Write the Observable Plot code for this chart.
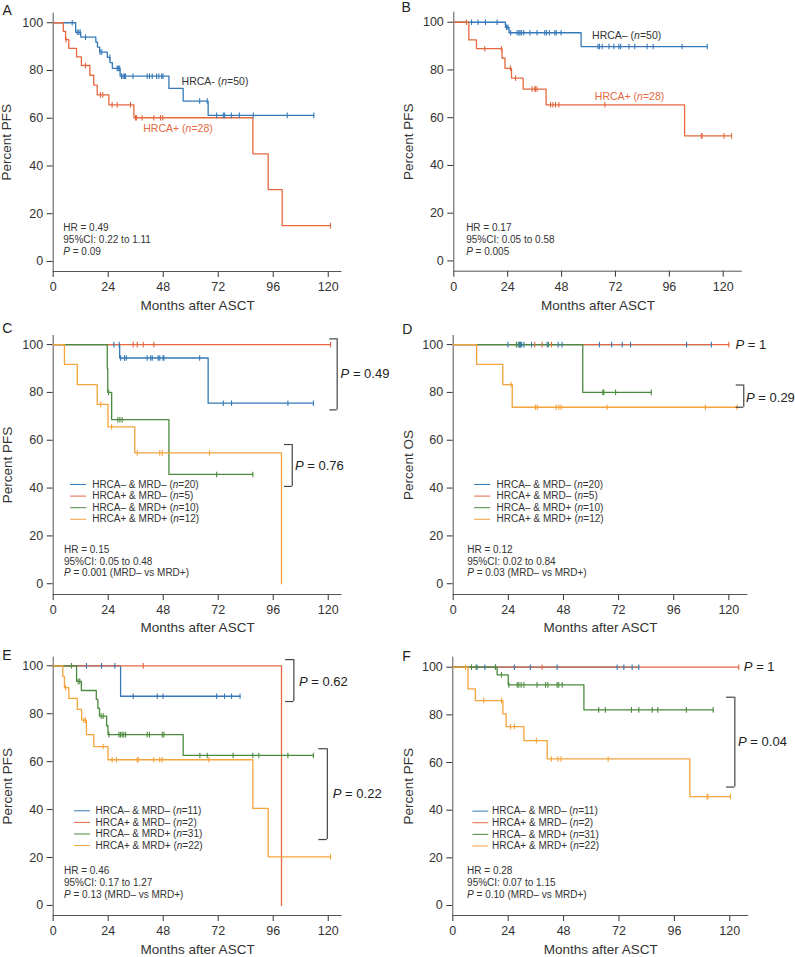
<!DOCTYPE html>
<html><head><meta charset="utf-8">
<script src="https://cdn.jsdelivr.net/npm/d3@7"></script>
<script src="https://cdn.jsdelivr.net/npm/@observablehq/plot@0.6"></script>
<style>
body{margin:0;background:#fff;}
#root{position:relative;width:795px;height:957px;overflow:hidden;background:#fff;}
.panel{position:absolute;}
</style></head><body><div id="root"></div>
<script>
// ---------- shared ----------
const xTicks = [0, 24, 48, 72, 96, 120];
const yTicks = [0, 20, 40, 60, 80, 100];
const colNeg = "#3579b8", colPos = "#e5683f", colNegMrdPos = "#4b8a3e", colPosMrdPos = "#f4a43c";

// ---------- Panel A (PFS, HRCA- vs HRCA+) ----------
const A_negTimes = [9.8, 12.0, 18.6, 19.3, 20.3, 23.6, 24.8, 25.8, 29.2, 50.5, 56.7, 67.6];
const A_negSurv  = [96.0, 94.0, 91.9, 89.8, 87.7, 85.5, 83.3, 80.9, 77.6, 72.5, 67.2, 61.2];
const A_negCensor = [8.3, 10.5, 11.2, 11.8, 14.1, 20.4, 21.2, 24.7, 27.9, 28.4, 29.0, 29.8, 30.5, 31.1, 31.6, 34.8, 41, 42, 43.2, 45.1, 46.1, 47.3, 47.9, 63.9, 67.2, 71.3, 74.2, 74.8, 77.7, 81.2, 87.3, 102.1, 113.7];
const A_negEnd = 113.7;
const A_posTimes = [4.4, 5.4, 6.8, 10.2, 12.3, 16.0, 17.7, 19.2, 24.3, 35.2, 87.1, 93.8, 99.9];
const A_posSurv  = [96.4, 92.9, 89.3, 85.7, 82.1, 78.0, 73.9, 69.8, 65.6, 60.2, 45.1, 30.1, 15.0];
const A_posCensor = [5.6, 14.1, 20.6, 21.6, 25.7, 27.9, 33.7, 35.9, 36.4, 38.8, 43.9, 46.8, 47.8, 121];
const A_posEnd = 121;
const A_stats = ["HR = 0.49", "95%CI: 0.22 to 1.11", "*P* = 0.09"];
const A_labels = ["HRCA- (*n*=50)", "HRCA+ (*n*=28)"];

// ---------- Panel B (OS, HRCA- vs HRCA+) ----------
const B_negTimes = [23.0, 24.6, 56.7];
const B_negSurv  = [97.9, 95.6, 89.8];
const B_negCensor = [7.9, 10.8, 14.1, 19.3, 23.5, 24.1, 25.3, 28.2, 29.0, 29.5, 30.2, 31.2, 33.9, 37.1, 40.5, 41.3, 42.6, 45.0, 45.6, 47.8, 64.2, 64.9, 66.1, 69.1, 71.3, 73.5, 74.3, 78.0, 80.6, 86.1, 88.8, 101.7, 112.9];
const B_negEnd = 112.9;
const B_posTimes = [6.7, 10.1, 21.5, 22.8, 25.7, 30.9, 41.1, 102.8];
const B_posSurv  = [92.6, 88.9, 84.9, 80.7, 76.6, 72.0, 65.4, 52.4];
const B_posCensor = [5.6, 13.8, 21.2, 25.2, 27.5, 34.9, 36.1, 36.4, 37.1, 43.1, 44.1, 45.3, 46.8, 67.3, 110.3, 110.6, 120.3, 123.7];
const B_posEnd = 123.7;
const B_stats = ["HR = 0.17", "95%CI: 0.05 to 0.58", "*P* = 0.005"];
const B_labels = ["HRCA– (*n*=50)", "HRCA+ (*n*=28)"];

// ---------- Panel C (PFS, 4 groups) ----------
const C_g1Times = [29.0, 67.6], C_g1Surv = [94.4, 75.5];
const C_g1Censor = [26.5, 28.8, 29.4, 31.1, 31.9, 41.0, 42.5, 43.2, 45.8, 46.5, 47.9, 48.3, 63.9, 74.2, 77.8, 102.4, 113.5];
const C_g1End = 113.5;
const C_g2Times = [], C_g2Surv = [];
const C_g2Censor = [34.9, 36.7, 39.3, 43.9, 121];
const C_g2End = 121;
const C_g3Times = [23.6, 23.8, 25.5, 50.5], C_g3Surv = [90, 80, 68.6, 45.7];
const C_g3Censor = [24.2, 28.2, 29.1, 30.1, 71.3, 87.1];
const C_g3End = 87.1;
const C_g4Times = [4.9, 10.5, 19.2, 23.9, 35.6, 99.6], C_g4Surv = [91.7, 83.3, 75.0, 65.6, 54.7, 0];
const C_g4Censor = [20.7, 25.5, 36.7, 46.5, 47.6, 68.2];
const C_g4End = 99.6;
const C_stats = ["HR = 0.15", "95%CI: 0.05 to 0.48", "*P* = 0.001 (MRD– vs MRD+)"];
const C_legend = ["HRCA– & MRD– (*n*=20)", "HRCA+ & MRD– (*n*=5)", "HRCA– & MRD+ (*n*=10)", "HRCA+ & MRD+ (*n*=12)"];
const C_pLabels = ["*P* = 0.49", "*P* = 0.76"];

// ---------- Panel D (OS, 4 groups) ----------
const D_g1Times = [], D_g1Surv = [];
const D_g1Censor = [23.8, 28.3, 28.9, 29.3, 29.8, 30.8, 34.1, 40.9, 45.7, 47.4, 63.7, 69, 73.6, 77.2, 101.6, 112.4];
const D_g1End = 112.4;
const D_g2Times = [], D_g2Surv = [];
const D_g2Censor = [35.5, 38.7, 42.8, 120];
const D_g2End = 120;
const D_g3Times = [56.4], D_g3Surv = [80];
const D_g3Censor = [27.5, 29.0, 41.5, 65.1, 65.6, 70.7, 86.2];
const D_g3End = 86.2;
const D_g4Times = [10.2, 21.6, 25.7], D_g4Surv = [91.7, 83.3, 73.8];
const D_g4Censor = [25.2, 35.8, 36.6, 44.8, 46.0, 47.0, 67.0, 109.8, 123.6];
const D_g4End = 123.6;
const D_stats = ["HR = 0.12", "95%CI: 0.02 to 0.84", "*P* = 0.03 (MRD– vs MRD+)"];
const D_legend = ["HRCA– & MRD– (*n*=20)", "HRCA+ & MRD– (*n*=5)", "HRCA– & MRD+ (*n*=10)", "HRCA+ & MRD+ (*n*=12)"];
const D_pLabels = ["*P* = 1", "*P* = 0.29"];

// ---------- Panel E (PFS, 4 groups) ----------
const E_g1Times = [29.4], E_g1Surv = [87.3];
const E_g1Censor = [14.5, 21.1, 26.9, 34.9, 45.4, 47.9, 71.3, 74.8, 77.8, 81.5];
const E_g1End = 81.5;
const E_g2Times = [99.6], E_g2Surv = [0];
const E_g2Censor = [39.3];
const E_g2End = 99.6;
const E_g3Times = [10.2, 12.3, 18.8, 19.5, 20.2, 23.3, 23.9, 56.7], E_g3Surv = [93.5, 89.7, 86.0, 82.3, 79.0, 75.0, 71.3, 62.6];
const E_g3Censor = [8.0, 10.9, 11.6, 20.9, 21.8, 24.3, 28.7, 29.4, 30.1, 30.8, 31.6, 41.0, 42.0, 47.6, 48.3, 64.0, 67.2, 78.5, 87.1, 89.7, 102.4, 113.5];
const E_g3End = 113.5;
const E_g4Times = [4.2, 4.9, 6.8, 10.5, 12.4, 14.5, 17.7, 23.9, 87.1, 93.8], E_g4Surv = [95.5, 90.9, 86.4, 81.8, 77.3, 71.3, 66.3, 60.8, 40.5, 20.3];
const E_g4Censor = [5.4, 13.4, 14.1, 21.8, 25.7, 27.6, 36.7, 37.1, 43.9, 46.5, 47.6, 67.9, 121];
const E_g4End = 121;
const E_stats = ["HR = 0.46", "95%CI: 0.17 to 1.27", "*P* = 0.13 (MRD– vs MRD+)"];
const E_legend = ["HRCA– & MRD– (*n*=11)", "HRCA+ & MRD– (*n*=2)", "HRCA– & MRD+ (*n*=31)", "HRCA+ & MRD+ (*n*=22)"];
const E_pLabels = ["*P* = 0.62", "*P* = 0.22"];

// ---------- Panel F (OS, 4 groups) ----------
const F_g1Times = [], F_g1Surv = [];
const F_g1Censor = [10.5, 13.9, 18.5, 26.7, 33.6, 45.2, 71.2, 74.1, 77.7, 80.6];
const F_g1End = 80.6;
const F_g2Times = [], F_g2Surv = [];
const F_g2Censor = [38.7, 123.9];
const F_g2End = 123.9;
const F_g3Times = [19.2, 24.0, 56.8], F_g3Surv = [96.8, 92.6, 82.1];
const F_g3Censor = [8.1, 10.1, 18.5, 21.1, 24.3, 27.9, 28.6, 29.6, 30.8, 36.5, 40.2, 41.2, 45.2, 45.9, 47.4, 63.2, 66.1, 77.4, 80.6, 86.4, 88.8, 101.2, 112.8];
const F_g3End = 112.8;
const F_g4Times = [6.6, 9.8, 21.7, 23.1, 30.8, 40.9, 102.7], F_g4Surv = [90.9, 86.0, 80.4, 75.1, 69.2, 61.5, 45.7];
const F_g4Censor = [5.5, 13.4, 21.1, 25.0, 26.7, 36.2, 42.7, 45.5, 46.9, 67.3, 110.2, 110.5, 120.3];
const F_g4End = 120.3;
const F_stats = ["HR = 0.28", "95%CI: 0.07 to 1.15", "*P* = 0.10 (MRD– vs MRD+)"];
const F_legend = ["HRCA– & MRD– (*n*=11)", "HRCA+ & MRD– (*n*=2)", "HRCA– & MRD+ (*n*=31)", "HRCA+ & MRD+ (*n*=22)"];
const F_pLabels = ["*P* = 1", "*P* = 0.04"];

// ---------- helpers ----------
function ser(times, surv, censor, end, color) { return {times, surv, censor, end, color}; }
function survAt(s, t) { let v = 100; s.times.forEach((tt, i) => { if (tt <= t) v = s.surv[i]; }); return v; }
function curvePts(s) {
  const p = [{t: 0, s: 100}];
  s.times.forEach((t, i) => p.push({t, s: s.surv[i]}));
  p.push({t: s.end, s: p[p.length - 1].s});
  return p;
}
const tickSymbol = {draw(ctx, size) { const r = Math.sqrt(size / Math.PI); ctx.moveTo(0, -r); ctx.lineTo(0, r); }};
const four = [colNeg, colPos, colNegMrdPos, colPosMrdPos];

const panels = [
  {letter: "A", left: 0, top: 0, height: 310, mL: 52.7, mR: 53.5, mT: 12.7, mB: 39, xMax: 126, yMin: -4.2, yMax: 104,
   yTitle: "Percent PFS", ltDx: -50.7, ltDy: -2.2, ytDx: -46.4, xtDy: 34,
   series: [ser(A_negTimes, A_negSurv, A_negCensor, A_negEnd, colNeg), ser(A_posTimes, A_posSurv, A_posCensor, A_posEnd, colPos)],
   stats: {lines: A_stats, x: 4.4, y: 13.9},
   labels: [{text: A_labels[0], x: 56, y: 75.3, color: "#333"}, {text: A_labels[1], x: 39.3, y: 55.5, color: colPos}]},
  {letter: "B", left: 395, top: 0, height: 310, mL: 58.3, mR: 48.2, mT: 11.7, mB: 39.3, xMax: 128.5, yMin: -4.3, yMax: 104.2,
   yTitle: "Percent PFS", ltDx: -52.3, ltDy: -4.5, ytDx: -45.5, xtDy: 34.3,
   series: [ser(B_negTimes, B_negSurv, B_negCensor, B_negEnd, colNeg), ser(B_posTimes, B_posSurv, B_posCensor, B_posEnd, colPos)],
   stats: {lines: B_stats, x: 5.5, y: 13.7},
   labels: [{text: B_labels[0], x: 61.6, y: 94.3, color: "#333"}, {text: B_labels[1], x: 62.8, y: 68.9, color: colPos}]},
  {letter: "C", left: 0, top: 310, height: 320, mL: 52.7, mR: 53.5, mT: 25, mB: 36, xMax: 126, yMin: -4.5, yMax: 103.8,
   yTitle: "Percent PFS", ltDx: -51, ltDy: -6.7, ytDx: -45.2, xtDy: 32.7,
   series: [ser(C_g1Times, C_g1Surv, C_g1Censor, C_g1End, four[0]), ser(C_g2Times, C_g2Surv, C_g2Censor, C_g2End, four[1]),
            ser(C_g3Times, C_g3Surv, C_g3Censor, C_g3End, four[2]), ser(C_g4Times, C_g4Surv, C_g4Censor, C_g4End, four[3])],
   stats: {lines: C_stats, x: 4.7, y: 14.2},
   legend: {labels: C_legend, x1: 7.6, x2: 14.6, tx: 17, y0: 41.5},
   brackets: [{x: 123.9, x0: 120.7, y1: 102.4, y2: 72.7, tx: 125.4, ty: 87.7, text: C_pLabels[0]},
              {x: 104.3, x0: 100.9, y1: 58.2, y2: 40.7, tx: 105.5, ty: 49.4, text: C_pLabels[1]}]},
  {letter: "D", left: 395, top: 310, height: 320, mL: 57.7, mR: 42.6, mT: 25, mB: 36, xMax: 128.3, yMin: -4.5, yMax: 103.8,
   yTitle: "Percent OS", ltDx: -51, ltDy: -6.3, ytDx: -44.5, xtDy: 33,
   series: [ser(D_g1Times, D_g1Surv, D_g1Censor, D_g1End, four[0]), ser(D_g2Times, D_g2Surv, D_g2Censor, D_g2End, four[1]),
            ser(D_g3Times, D_g3Surv, D_g3Censor, D_g3End, four[2]), ser(D_g4Times, D_g4Surv, D_g4Censor, D_g4End, four[3])],
   stats: {lines: D_stats, x: 6.1, y: 14.2},
   legend: {labels: D_legend, x1: 9.3, x2: 16.3, tx: 18.9, y0: 41.5},
   pOnly: [{tx: 122.9, ty: 99.9, text: D_pLabels[0]}],
   brackets: [{x: 126.5, x0: 123.2, y1: 83.1, y2: 73.8, tx: 127.5, ty: 77.6, text: D_pLabels[1]}]},
  {letter: "E", left: 0, top: 630, height: 327, mL: 52.7, mR: 53.5, mT: 26.7, mB: 42, xMax: 126, yMin: -4.2, yMax: 103.6,
   yTitle: "Percent PFS", ltDx: -51, ltDy: -1.4, ytDx: -45.2, xtDy: 34,
   series: [ser(E_g1Times, E_g1Surv, E_g1Censor, E_g1End, four[0]), ser(E_g2Times, E_g2Surv, E_g2Censor, E_g2End, four[1]),
            ser(E_g3Times, E_g3Surv, E_g3Censor, E_g3End, four[2]), ser(E_g4Times, E_g4Surv, E_g4Censor, E_g4End, four[3])],
   stats: {lines: E_stats, x: 4.7, y: 14.3},
   legend: {labels: E_legend, x1: 9.3, x2: 16.3, tx: 18.5, y0: 39.5},
   brackets: [{x: 105, x0: 101.4, y1: 102.6, y2: 85.1, tx: 107.2, ty: 93.5, text: E_pLabels[0]},
              {x: 119.6, x0: 115.9, y1: 65.4, y2: 27.5, tx: 122, ty: 46.6, text: E_pLabels[1]}]},
  {letter: "F", left: 395, top: 630, height: 327, mL: 57.3, mR: 41.8, mT: 26.7, mB: 42, xMax: 128.2, yMin: -4.2, yMax: 104.2,
   yTitle: "Percent PFS", ltDx: -50.6, ltDy: -1, ytDx: -44.1, xtDy: 34,
   series: [ser(F_g1Times, F_g1Surv, F_g1Censor, F_g1End, four[0]), ser(F_g2Times, F_g2Surv, F_g2Censor, F_g2End, four[1]),
            ser(F_g3Times, F_g3Surv, F_g3Censor, F_g3End, four[2]), ser(F_g4Times, F_g4Surv, F_g4Censor, F_g4End, four[3])],
   stats: {lines: F_stats, x: 6.2, y: 14.4},
   legend: {labels: F_legend, x1: 8.7, x2: 15.6, tx: 17.0, y0: 39.6},
   pOnly: [{tx: 126.1, ty: 100.3, text: F_pLabels[0]}],
   brackets: [{x: 122.2, x0: 118.6, y1: 87.4, y2: 49.7, tx: 123.6, ty: 68.5, text: F_pLabels[1]}]}
];

function italicize(svg) {
  svg.querySelectorAll("text").forEach(t => {
    const s = t.textContent;
    if (!s.includes("*") || t.querySelector("tspan")) return;
    const parts = s.split(/\*(.*?)\*/);
    while (t.firstChild) t.removeChild(t.firstChild);
    parts.forEach((p, i) => {
      if (!p) return;
      if (i % 2 === 1) {
        const ts = document.createElementNS("http://www.w3.org/2000/svg", "tspan");
        ts.setAttribute("font-style", "italic");
        ts.textContent = p;
        t.appendChild(ts);
      } else t.appendChild(document.createTextNode(p));
    });
  });
}

const root = document.getElementById("root");
panels.forEach(P => {
  const pxPerUnit = (P.height - P.mT - P.mB) / (P.yMax - P.yMin);
  const lineStep = 11.6 / pxPerUnit;
  const marks = [];
  marks.push(Plot.ruleX([0], {stroke: "#555", strokeWidth: 1}));
  marks.push(Plot.ruleY([P.yMin], {stroke: "#555", strokeWidth: 1}));
  P.series.forEach(s => {
    marks.push(Plot.line(curvePts(s), {x: "t", y: "s", curve: "step-after", stroke: s.color, strokeWidth: 1.3}));
  });
  P.series.forEach(s => {
    const cd = s.censor.map(t => ({t, s: survAt(s, t)}));
    marks.push(Plot.dot(cd, {x: "t", y: "s", symbol: tickSymbol, r: 2.8, stroke: s.color, fill: "none", strokeWidth: 1.1}));
  });
  const st = P.stats.lines.map((text, i) => ({text, x: P.stats.x, y: P.stats.y - i * lineStep}));
  marks.push(Plot.text(st, {x: "x", y: "y", text: "text", textAnchor: "start", lineAnchor: "middle", fontSize: 10, fill: "#333"}));
  if (P.labels) P.labels.forEach(l => {
    marks.push(Plot.text([l], {x: "x", y: "y", text: "text", textAnchor: "start", lineAnchor: "middle", fontSize: 10.5, fill: l.color}));
  });
  if (P.legend) {
    const rows = P.legend.labels.map((text, i) => ({text, y: P.legend.y0 - i * lineStep, color: four[i]}));
    rows.forEach(r => marks.push(Plot.ruleY([r], {y: "y", x1: P.legend.x1, x2: P.legend.x2, stroke: r.color, strokeWidth: 1})));
    marks.push(Plot.text(rows, {x: P.legend.tx, y: "y", text: "text", textAnchor: "start", lineAnchor: "middle", fontSize: 10, fill: "#333"}));
  }
  if (P.brackets) {
    marks.push(Plot.ruleX(P.brackets, {x: "x", y1: "y1", y2: "y2", stroke: "#444", strokeWidth: 1.2}));
    const ticks = P.brackets.flatMap(b => [{y: b.y1, x1: b.x0, x2: b.x}, {y: b.y2, x1: b.x0, x2: b.x}]);
    marks.push(Plot.ruleY(ticks, {y: "y", x1: "x1", x2: "x2", stroke: "#444", strokeWidth: 1.2}));
    marks.push(Plot.text(P.brackets, {x: "tx", y: "ty", text: "text", textAnchor: "start", lineAnchor: "middle", fontSize: 13, fill: "#222"}));
  }
  if (P.pOnly) marks.push(Plot.text(P.pOnly, {x: "tx", y: "ty", text: "text", textAnchor: "start", lineAnchor: "middle", fontSize: 13, fill: "#222"}));
  marks.push(Plot.text([P.yTitle], {frameAnchor: "left", rotate: -90, dx: P.ytDx, lineAnchor: "middle", textAnchor: "middle", fontSize: 13.5, fill: "#333"}));
  marks.push(Plot.text(["Months after ASCT"], {frameAnchor: "bottom", dy: P.xtDy, lineAnchor: "middle", textAnchor: "middle", fontSize: 13.5, fill: "#333"}));
  marks.push(Plot.text([P.letter], {frameAnchor: "top-left", dx: P.ltDx, dy: P.ltDy, lineAnchor: "middle", textAnchor: "start", fontSize: 14, fill: "#222"}));

  const svg = Plot.plot({
    width: 395, height: P.height,
    marginLeft: P.mL, marginRight: P.mR, marginTop: P.mT, marginBottom: P.mB,
    style: {fontFamily: "'Liberation Sans', Arial, sans-serif", fontSize: "12.5px", color: "#333", background: "transparent", overflow: "visible"},
    x: {domain: [0, P.xMax], ticks: xTicks, tickSize: 6, tickPadding: 5, label: null, nice: false},
    y: {domain: [P.yMin, P.yMax], ticks: yTicks, tickSize: 6, tickPadding: 4, label: null, nice: false},
    marks
  });
  italicize(svg);
  const div = document.createElement("div");
  div.className = "panel";
  div.style.left = P.left + "px";
  div.style.top = P.top + "px";
  div.appendChild(svg);
  root.appendChild(div);
});
</script>
</body></html>
